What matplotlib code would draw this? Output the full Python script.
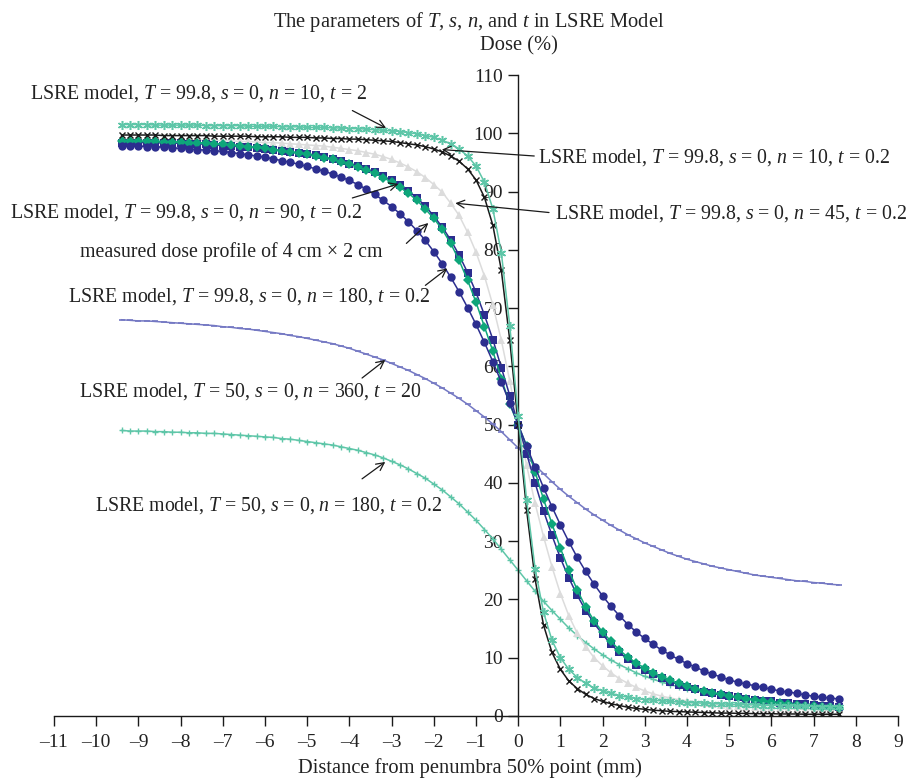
import matplotlib
matplotlib.use("Agg")
import matplotlib.pyplot as plt

plt.rcParams['font.family'] = ['Liberation Serif', 'DejaVu Serif']
plt.rcParams['mathtext.fontset'] = 'custom'
plt.rcParams['mathtext.rm'] = 'Liberation Serif'
plt.rcParams['mathtext.it'] = 'Liberation Serif:italic'

# distance from penumbra 50% point (mm)
x_mm = [-9.4, -9.2, -9.0, -8.8, -8.6, -8.4, -8.2, -8.0, -7.8, -7.6,
        -7.4, -7.2, -7.0, -6.8, -6.6, -6.4, -6.2, -6.0, -5.8, -5.6,
        -5.4, -5.2, -5.0, -4.8, -4.6, -4.4, -4.2, -4.0, -3.8, -3.6,
        -3.4, -3.2, -3.0, -2.8, -2.6, -2.4, -2.2, -2.0, -1.8, -1.6,
        -1.4, -1.2, -1.0, -0.8, -0.6, -0.4, -0.2, 0.0,
        0.2, 0.4, 0.6, 0.8, 1.0, 1.2, 1.4, 1.6, 1.8, 2.0,
        2.2, 2.4, 2.6, 2.8, 3.0, 3.2, 3.4, 3.6, 3.8, 4.0,
        4.2, 4.4, 4.6, 4.8, 5.0, 5.2, 5.4, 5.6, 5.8, 6.0,
        6.2, 6.4, 6.6, 6.8, 7.0, 7.2, 7.4, 7.6]

# LSRE model, T=99.8, s=0, n=10, t=2
dose_n10_t2 = [101.5, 101.5, 101.5, 101.5, 101.4, 101.4, 101.4, 101.4, 101.4, 101.4,
               101.3, 101.3, 101.3, 101.3, 101.3, 101.2, 101.2, 101.2, 101.2, 101.1,
               101.1, 101.1, 101.0, 101.0, 101.0, 100.9, 100.9, 100.8, 100.8, 100.7,
               100.6, 100.5, 100.4, 100.3, 100.1, 99.9, 99.6, 99.3, 98.8, 98.2,
               97.3, 96.1, 94.4, 91.6, 87.0, 79.5, 67.0, 51.5,
               37.0, 25.3, 17.8, 13.0, 10.0, 8.0, 6.6, 5.6, 4.8, 4.3,
               3.9, 3.5, 3.2, 3.0, 2.8, 2.7, 2.6, 2.5, 2.4, 2.3,
               2.25, 2.2, 2.1, 2.1, 2.0, 2.0, 1.9, 1.9, 1.8, 1.8,
               1.8, 1.7, 1.7, 1.7, 1.6, 1.6, 1.6, 1.6]

# LSRE model, T=99.8, s=0, n=10, t=0.2
dose_n10 = [99.7, 99.7, 99.7, 99.7, 99.7, 99.6, 99.6, 99.6, 99.6, 99.6,
            99.6, 99.5, 99.5, 99.5, 99.5, 99.5, 99.4, 99.4, 99.4, 99.4,
            99.3, 99.3, 99.3, 99.2, 99.2, 99.1, 99.1, 99.0, 99.0, 98.9,
            98.8, 98.7, 98.6, 98.4, 98.2, 98.0, 97.7, 97.3, 96.8, 96.1,
            95.2, 93.9, 92.0, 89.0, 84.2, 76.5, 64.5, 50.0,
            35.3, 23.5, 15.6, 10.9, 8.0, 6.0, 4.7, 3.7, 3.0, 2.5,
            2.1, 1.8, 1.5, 1.3, 1.15, 1.0, 0.9, 0.8, 0.75, 0.7,
            0.65, 0.6, 0.55, 0.5, 0.5, 0.45, 0.45, 0.4, 0.4, 0.4,
            0.35, 0.35, 0.35, 0.3, 0.3, 0.3, 0.3, 0.3]

# LSRE model, T=99.8, s=0, n=45, t=0.2
dose_n45 = [99.0, 99.0, 98.9, 98.9, 98.9, 98.9, 98.9, 98.8, 98.8, 98.8,
            98.8, 98.8, 98.7, 98.7, 98.6, 98.6, 98.5, 98.4, 98.4, 98.3,
            98.2, 98.1, 98.0, 97.9, 97.8, 97.6, 97.4, 97.2, 97.0, 96.7,
            96.4, 96.0, 95.5, 94.9, 94.2, 93.4, 92.4, 91.2, 89.9, 88.0,
            85.9, 83.0, 79.6, 75.5, 70.5, 64.5, 57.5, 50.0,
            43.0, 36.5, 30.8, 25.6, 21.0, 17.2, 14.2, 11.9, 10.0, 8.6,
            7.4, 6.4, 5.6, 4.9, 4.3, 3.8, 3.4, 3.1, 2.8, 2.6,
            2.4, 2.2, 2.0, 1.9, 1.8, 1.7, 1.6, 1.5, 1.4, 1.4,
            1.3, 1.2, 1.2, 1.1, 1.1, 1.0, 1.0, 1.0]

# measured dose profile of 4 cm x 2 cm
dose_measured = [98.6, 98.6, 98.6, 98.6, 98.6, 98.5, 98.5, 98.5, 98.4, 98.4,
                 98.3, 98.2, 98.1, 98.0, 97.9, 97.7, 97.6, 97.4, 97.2, 97.0,
                 96.8, 96.6, 96.4, 96.1, 95.8, 95.5, 95.1, 94.7, 94.2, 93.7,
                 93.1, 92.4, 91.6, 90.7, 89.7, 88.5, 87.0, 85.4, 83.5, 81.1,
                 78.2, 74.8, 71.0, 66.8, 62.6, 57.9, 53.5, 50.0,
                 46.3, 41.9, 37.2, 33.0, 28.8, 25.0, 21.6, 18.7, 16.3, 14.4,
                 12.8, 11.3, 10.1, 9.1, 8.2, 7.4, 6.7, 6.1, 5.6, 5.1,
                 4.7, 4.3, 4.0, 3.7, 3.4, 3.2, 3.0, 2.8, 2.6, 2.4,
                 2.2, 2.1, 1.9, 1.8, 1.7, 1.6, 1.5, 1.4]

# LSRE model, T=99.8, s=0, n=90, t=0.2
dose_n90 = [98.4, 98.4, 98.4, 98.4, 98.4, 98.3, 98.3, 98.3, 98.2, 98.2,
            98.1, 98.0, 97.9, 97.8, 97.7, 97.6, 97.5, 97.3, 97.2, 97.0,
            96.8, 96.6, 96.4, 96.2, 95.9, 95.6, 95.2, 94.8, 94.4, 93.9,
            93.3, 92.6, 91.9, 91.1, 90.1, 88.9, 87.5, 85.8, 83.9, 81.7,
            79.1, 76.1, 72.7, 68.8, 64.6, 59.8, 55.0, 50.0,
            45.0, 40.0, 35.2, 31.0, 27.1, 23.7, 20.7, 18.1, 15.9, 14.0,
            12.3, 10.9, 9.7, 8.7, 7.9, 7.2, 6.5, 5.9, 5.4, 5.0,
            4.6, 4.2, 3.9, 3.6, 3.4, 3.2, 3.0, 2.8, 2.6, 2.5,
            2.3, 2.2, 2.1, 2.0, 1.9, 1.8, 1.7, 1.6]

# LSRE model, T=99.8, s=0, n=180, t=0.2
dose_n180 = [97.9, 97.8, 97.8, 97.7, 97.7, 97.6, 97.5, 97.4, 97.3, 97.2,
             97.1, 97.0, 96.9, 96.7, 96.5, 96.3, 96.1, 95.9, 95.6, 95.3,
             95.0, 94.7, 94.3, 93.9, 93.5, 93.0, 92.5, 91.9, 91.2, 90.4,
             89.5, 88.5, 87.4, 86.2, 84.8, 83.3, 81.6, 79.7, 77.6, 75.3,
             72.8, 70.1, 67.2, 64.1, 60.8, 57.3, 53.7, 50.0,
             46.3, 42.7, 39.2, 35.9, 32.8, 29.9, 27.2, 24.8, 22.6, 20.6,
             18.8, 17.2, 15.7, 14.4, 13.3, 12.3, 11.3, 10.5, 9.7, 9.0,
             8.4, 7.7, 7.2, 6.7, 6.2, 5.8, 5.5, 5.2, 4.9, 4.6,
             4.3, 4.1, 3.9, 3.6, 3.4, 3.2, 3.1, 2.9]

# LSRE model, T=50, s=0, n=360, t=20
dose_T50_n360_t20 = [68.0, 67.9, 67.8, 67.8, 67.7, 67.6, 67.5, 67.4, 67.3, 67.2,
                     67.1, 67.0, 66.8, 66.7, 66.5, 66.4, 66.2, 66.0, 65.8, 65.6,
                     65.3, 65.1, 64.8, 64.5, 64.2, 63.9, 63.5, 63.1, 62.6, 62.1,
                     61.6, 61.1, 60.5, 59.9, 59.3, 58.6, 57.9, 57.1, 56.3, 55.4,
                     54.5, 53.5, 52.4, 51.3, 50.1, 48.8, 47.4, 46.0,
                     44.5, 43.0, 41.6, 40.2, 38.9, 37.7, 36.6, 35.5, 34.5, 33.6,
                     32.7, 31.9, 31.1, 30.4, 29.7, 29.1, 28.5, 27.9, 27.4, 26.9,
                     26.5, 26.1, 25.7, 25.4, 25.1, 24.8, 24.5, 24.2, 24.0, 23.8,
                     23.6, 23.4, 23.2, 23.1, 22.9, 22.8, 22.6, 22.5]

# LSRE model, T=50, s=0, n=180, t=0.2
dose_T50_n180 = [49.0, 48.9, 48.9, 48.9, 48.8, 48.8, 48.7, 48.7, 48.6, 48.6,
                 48.5, 48.5, 48.4, 48.3, 48.2, 48.1, 48.0, 47.9, 47.8, 47.6,
                 47.5, 47.3, 47.1, 46.9, 46.7, 46.5, 46.2, 45.9, 45.6, 45.2,
                 44.8, 44.3, 43.7, 43.1, 42.4, 41.6, 40.8, 39.8, 38.8, 37.6,
                 36.4, 35.0, 33.6, 32.0, 30.4, 28.6, 26.8, 25.0,
                 23.2, 21.4, 19.7, 18.1, 16.6, 15.1, 13.8, 12.6, 11.5, 10.5,
                 9.6, 8.8, 8.1, 7.4, 6.8, 6.3, 5.8, 5.4, 5.0, 4.7,
                 4.4, 4.1, 3.8, 3.6, 3.4, 3.2, 3.0, 2.9, 2.7, 2.6,
                 2.4, 2.3, 2.2, 2.1, 2.0, 1.9, 1.8, 1.7]

x_ticks = list(range(-11, 10))
y_ticks = list(range(0, 111, 10))

TEAL = '#5ec6a8'
GREEN = '#0ea67a'
NAVY = '#2c2e8f'
GRAY = '#dcdcdc'
SLATE = '#7478c3'
BLACK = '#1a1a1a'

fig = plt.figure(figsize=(9.19, 7.82), dpi=100)
ax = fig.add_axes([54/919, 66/782, 844/919, 641/782])

star = (6, 2, 0)
ax.plot(x_mm, dose_T50_n360_t20, color=SLATE, lw=1.1, marker='_', ms=4, mew=1.2, zorder=2)
ax.plot(x_mm, dose_T50_n180, color=TEAL, lw=1.1, marker='+', ms=5, mew=1.0, zorder=2)
ax.plot(x_mm, dose_n45, color=GRAY, lw=1.1, marker='^', ms=5.5, mew=0, zorder=3)
ax.plot(x_mm, dose_n90, color=NAVY, lw=1.1, marker='s', ms=5.5, mew=0, zorder=4)
ax.plot(x_mm, dose_measured, color=GREEN, lw=1.1, marker='D', ms=5.5, mew=0, zorder=5)
ax.plot(x_mm, dose_n180, color=NAVY, lw=1.1, marker='o', ms=6, mew=0, zorder=6)
ax.plot(x_mm, dose_n10, color=BLACK, lw=1.1, marker='x', ms=5, mew=1.0, zorder=7)
ax.plot(x_mm, dose_n10_t2, color=TEAL, lw=1.1, marker=star, ms=6.5, mew=1.1, zorder=8)

ax.set_xlim(-11, 9)
ax.set_ylim(0, 110)
ax.spines['left'].set_position(('data', 0))
ax.spines['bottom'].set_position(('data', 0))
ax.spines['top'].set_visible(False)
ax.spines['right'].set_visible(False)
for s in ('left', 'bottom'):
    ax.spines[s].set_color(BLACK)
    ax.spines[s].set_linewidth(1.0)
ax.set_xticks(x_ticks)
ax.set_yticks(y_ticks)
ax.set_xticklabels(['\u2013' + str(-v) if v < 0 else str(v) for v in x_ticks])
ax.tick_params(axis='both', direction='out', length=7, width=1.0, color=BLACK,
               labelsize=14, labelcolor='#222222')
ax.tick_params(axis='x', pad=6)
ax.tick_params(axis='y', pad=4)
ax.patch.set_visible(False)

fs = 14.3
arrow = dict(arrowstyle='->', lw=0.9, color=BLACK, shrinkA=0, shrinkB=0, mutation_scale=14)
labels = [
    ('LSRE model, $T$ = 99.8, $s$ = 0, $n$ = 10, $t$ = 2', (-11.56, 106.9), (-3.93, 103.9), (-3.13, 100.9)),
    ('LSRE model, $T$ = 99.8, $s$ = 0, $n$ = 10, $t$ = 0.2', (0.47, 95.9), (0.38, 96.1), (-1.81, 97.2)),
    ('LSRE model, $T$ = 99.8, $s$ = 0, $n$ = 45, $t$ = 0.2', (0.88, 86.3), (0.73, 86.4), (-1.49, 88.0)),
    ('LSRE model, $T$ = 99.8, $s$ = 0, $n$ = 90, $t$ = 0.2', (-12.04, 86.4), (-3.93, 88.9), (-2.84, 91.3)),
    ('measured dose profile of 4 cm \u00d7 2 cm', (-10.38, 79.6), (-2.65, 81.1), (-2.13, 84.6)),
    ('LSRE model, $T$ = 99.8, $s$ = 0, $n$ = 180, $t$ = 0.2', (-10.66, 71.9), (-2.20, 73.9), (-1.68, 76.8)),
    ('LSRE model, $T$ = 50, $s$ = 0, $n$ = 360, $t$ = 20', (-10.40, 55.6), (-3.70, 58.0), (-3.15, 61.1)),
    ('LSRE model, $T$ = 50, $s$ = 0, $n$ = 180, $t$ = 0.2', (-10.02, 36.2), (-3.70, 40.7), (-3.15, 43.6)),
]
for text, tpos, a0, a1 in labels:
    ax.text(tpos[0], tpos[1], text, ha='left', va='center', fontsize=fs,
            color='#222222', zorder=10, clip_on=False)
    ax.annotate('', xy=a1, xytext=a0, arrowprops=arrow, zorder=10, annotation_clip=False)

fig.text(469/919, 1 - 22/782, 'The parameters of $T$, $s$, $n$, and $t$ in LSRE Model',
         ha='center', va='center', fontsize=14.8, color='#222222')
fig.text(519/919, 1 - 46/782, 'Dose (%)', ha='center', va='center', fontsize=14.8, color='#222222')
fig.text(470/919, 1 - 768/782, 'Distance from penumbra 50% point (mm)', ha='center', va='center',
         fontsize=14.8, color='#222222')

fig.savefig('out.png', dpi=100)
